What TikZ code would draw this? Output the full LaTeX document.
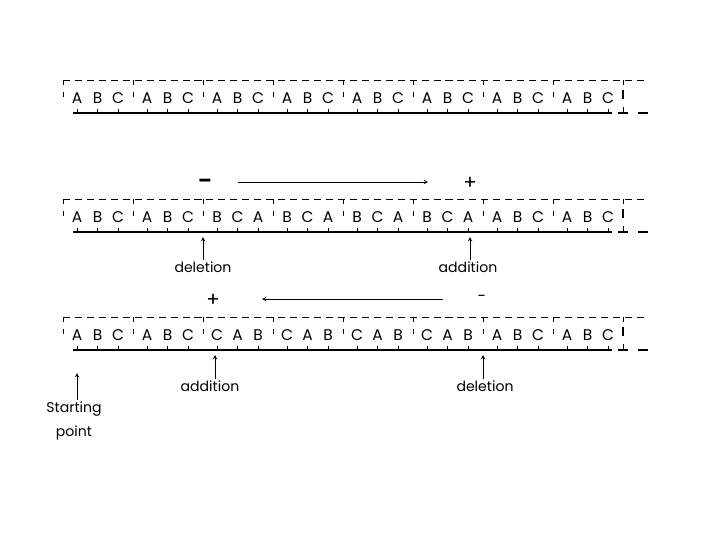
\documentclass[tikz,border=0pt]{standalone}
\usepackage{fontspec}
\setmainfont{Poppins}
\tikzset{>=stealth}
\newcommand{\gw}{70}  % width of one triplet
\newcommand{\xo}{63}  % left edge of first triplet
\tikzset{
  base/.style={font=\fontsize{11}{11}\selectfont, inner sep=0pt},
  sign/.style={font=\fontsize{14}{14}\selectfont, inner sep=0pt},
  lbl/.style={font=\fontsize{10}{17}\selectfont, align=center, inner sep=1pt},
  frame/.style={dash pattern=on 5pt off 3.5pt, line width=0.7pt},
  strand/.style={line width=1.4pt},
}

\begin{document}
\begin{tikzpicture}[x=0.025cm,y=-0.025cm]
  \useasboundingbox (0,0) rectangle (720,540);
  \foreach \r/\yy/\seq in {1/98/{A,B,C,A,B,C,A,B,C,A,B,C,A,B,C,A,B,C,A,B,C,A,B,C},
                           2/217/{A,B,C,A,B,C,B,C,A,B,C,A,B,C,A,B,C,A,A,B,C,A,B,C},
                           3/335/{A,B,C,A,B,C,C,A,B,C,A,B,C,A,B,C,A,B,A,B,C,A,B,C}} {
    % reading frame
    \draw[frame] (\xo,\yy-18) -- (648,\yy-18);
    \foreach \i in {0,...,8} {
      \draw (\xo+\i*\gw,\yy-18) -- ++(0,5);
      \draw (\xo+\i*\gw,\yy-6) -- ++(0,5);
    }
    \draw[line width=1.1pt] (\xo+8*\gw,\yy-8) -- ++(0,9);
    \foreach \l [count=\k] in \seq {
      \pgfmathsetmacro\xx{\xo+\gw*int((\k-1)/3)+14+20.5*mod(\k-1,3)}
      \node[base] (r\r-\k) at (\xx,\yy) {\l};
      \draw (\xx,\yy+15) -- ++(0,-4);
    }
    % strand
    \draw[strand] (73,\yy+15) -- (612,\yy+15);
    \draw[strand] (618,\yy+15) -- (628,\yy+15);
    \draw (623,\yy+9) -- (623,\yy+15);
    \draw[strand] (638,\yy+15) -- (648,\yy+15);
  }

  % second row
  \node[sign] (minus2) at (205,183) {\textbf{–}};
  \node[sign] (plus2) at (470,183) {+};
  \coordinate (go2a) at (238,182);
  \coordinate (go2b) at (428,182);
  \draw[->] (go2a) -- (go2b);
  \node[lbl] (del2) at (203,267) {deletion};
  \coordinate (del2tip) at (203,237);
  \draw[->] (del2tip |- del2.north) -- (del2tip);
  \node[lbl] (add2) at (468,267) {addition};
  \coordinate (add2tip) at (470,237);
  \draw[->] (add2tip |- add2.north) -- (add2tip);

  % third row
  \node[sign] (plus3) at (213,300) {+};
  \node[base] (minus3) at (482,298) {-};
  \coordinate (go3a) at (443,299);
  \coordinate (go3b) at (262,299);
  \draw[->] (go3a) -- (go3b);
  \node[lbl] (add3) at (210,386) {addition};
  \coordinate (add3tip) at (215,355);
  \draw[->] (add3tip |- add3.north) -- (add3tip);
  \node[lbl] (del3) at (485,386) {deletion};
  \coordinate (del3tip) at (483,355);
  \draw[->] (del3tip |- del3.north) -- (del3tip);
  \node[lbl] (start) at (74,421) {Starting\\point};
  \coordinate (starttip) at (77,373);
  \draw[->] (starttip |- start.north) -- (starttip);
\end{tikzpicture}
\end{document}
